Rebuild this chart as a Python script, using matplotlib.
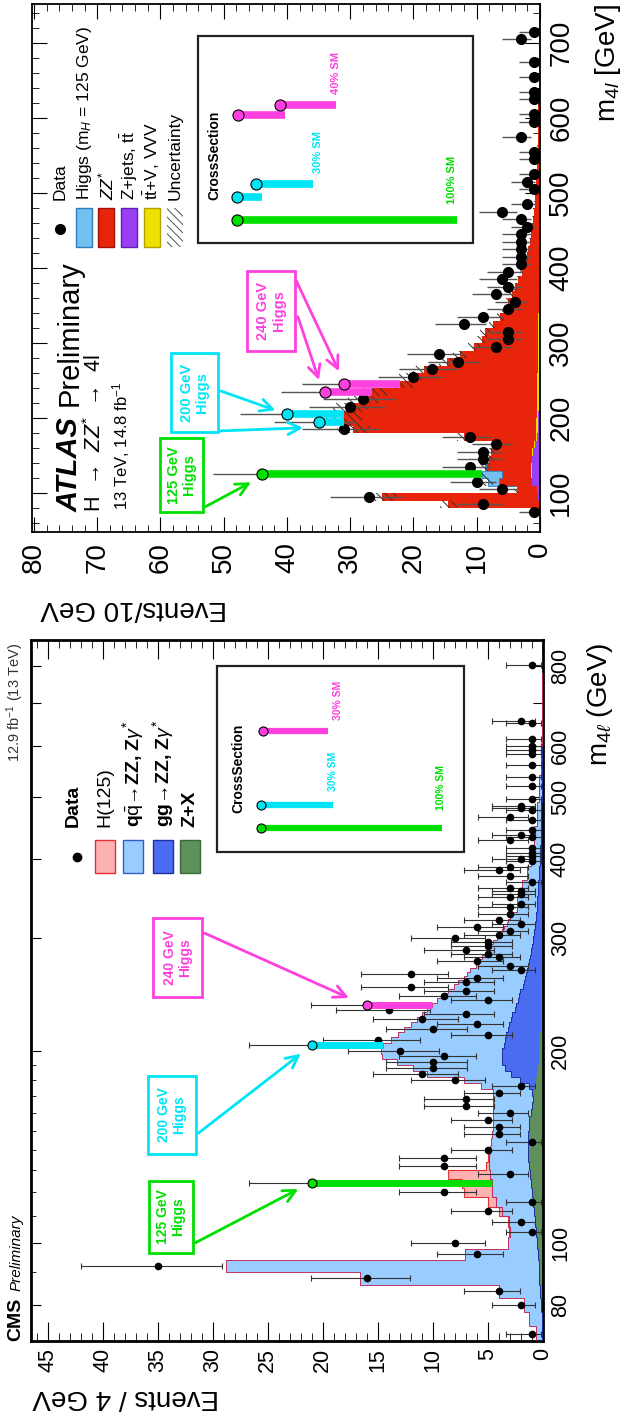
import numpy as np
import matplotlib
matplotlib.use("Agg")
import matplotlib.pyplot as plt
from matplotlib.patches import Rectangle
from matplotlib.lines import Line2D
from matplotlib.ticker import MultipleLocator, FixedLocator, NullFormatter

plt.rcParams['font.family'] = ['Liberation Sans', 'DejaVu Sans']
plt.rcParams['mathtext.fontset'] = 'custom'
plt.rcParams['mathtext.rm'] = 'Liberation Sans'
plt.rcParams['mathtext.it'] = 'Liberation Sans:italic'
plt.rcParams['mathtext.bf'] = 'Liberation Sans:bold'
plt.rcParams['hatch.linewidth'] = 0.7
plt.rcParams['ytick.alignment'] = 'center'

# ---------------- CMS (Events / 4 GeV) ----------------
cms_edges = list(range(70, 334, 4)) + [350, 370, 390, 420, 450, 490, 540, 600, 680, 780, 880]
# outer edge of the background stack (Z+X + gg + qq)
cms_total = [0.6, 1.3, 1.7, 4.0, 16.6, 28.8, 7.1, 3.2, 3.0, 3.1,
             3.7, 4.3, 4.6, 4.6, 4.8, 4.9, 4.9, 4.8, 4.7, 4.6,
             4.5, 4.5, 4.5, 4.5, 4.5, 4.5, 5.6, 7.2, 10.5, 11.8,
             13.3, 14.6, 14.7, 14.5, 13.8, 13.2, 12.6, 12.0, 11.4, 11.0,
             10.5, 10.1, 9.6, 9.0, 8.6, 8.1, 7.7, 7.2, 6.9, 6.6,
             6.1, 5.8, 5.5, 5.2, 5.0, 4.7, 4.5, 4.2, 4.0, 3.7,
             3.5, 3.3, 3.2, 3.0, 2.8,
             2.4, 1.9, 1.45, 1.1, 0.8, 0.55, 0.38, 0.22, 0.12, 0.06, 0.03]
cms_gg = [0.02, 0.02, 0.02, 0.02, 0.02, 0.02, 0.02, 0.02, 0.02, 0.02,
          0.02, 0.02, 0.02, 0.02, 0.02, 0.03, 0.03, 0.03, 0.03, 0.03,
          0.03, 0.03, 0.03, 0.03, 0.03, 0.2, 0.6, 1.5, 2.4, 3.0,
          3.3, 3.4, 3.4, 3.3, 3.2, 3.1, 3.0, 2.9, 2.7, 2.6,
          2.4, 2.3, 2.1, 2.0, 1.9, 1.7, 1.6, 1.5, 1.4, 1.3,
          1.2, 1.15, 1.1, 1.0, 0.95, 0.9, 0.85, 0.8, 0.75, 0.7,
          0.65, 0.62, 0.6, 0.57, 0.55,
          0.5, 0.42, 0.35, 0.28, 0.2, 0.15, 0.1, 0.06, 0.03, 0.015, 0.008]
cms_zx = [0.05, 0.1, 0.2, 0.25, 0.3, 0.35, 0.4, 0.5, 0.6, 0.7,
          0.8, 0.9, 1.0, 1.1, 1.2, 1.25, 1.3, 1.35, 1.35, 1.3,
          1.25, 1.2, 1.1, 1.0, 0.9, 0.8, 0.7, 0.6, 0.5, 0.45,
          0.4, 0.35, 0.3, 0.28, 0.26, 0.24, 0.22, 0.21, 0.2, 0.19,
          0.18, 0.17, 0.16, 0.15, 0.15, 0.14, 0.14, 0.13, 0.13, 0.12,
          0.12, 0.11, 0.11, 0.1, 0.1, 0.1, 0.09, 0.09, 0.09, 0.08,
          0.08, 0.08, 0.07, 0.07, 0.07,
          0.06, 0.05, 0.04, 0.03, 0.025, 0.02, 0.01, 0.005, 0.003, 0.002, 0.001]
cms_h_centers = [104, 108, 112, 116, 120, 124, 128, 132, 136]
cms_h125 = [0.05, 0.1, 0.3, 0.7, 2.6, 2.8, 3.8, 0.3, 0.05]

cms_data_m = [72, 80, 84, 88, 92, 96, 100, 104, 108, 112,
              116, 120, 124, 128, 132, 136, 140, 144, 148, 152,
              156, 160, 164, 168, 172, 176, 180, 184, 188, 192,
              196, 200, 204, 208, 212, 216, 220, 224, 228, 232,
              236, 240, 244, 248, 252, 256, 260, 264, 268, 272,
              276, 280, 284, 288, 292, 296, 300, 304, 308, 312,
              316, 320, 328, 336, 340, 348, 352, 356, 360, 368,
              376, 384, 388, 396, 400, 404, 408, 416, 428, 432,
              436, 444, 460, 464, 476, 480, 484, 496, 520, 536,
              560, 584, 592, 600, 616, 652, 656, 804]
cms_data_n = [1, 2, 4, 16, 35, 6, 8, 1, 2, 5,
              1, 9, 21, 3, 9, 9, 5, 1, 4, 4,
              5, 3, 7, 7, 4, 2, 8, 11, 10, 10,
              9, 13, 21, 15, 5, 10, 6, 11, 7, 14,
              16, 5, 9, 7, 12, 7, 6, 12, 2, 3,
              6, 4, 5, 7, 5, 5, 8, 4, 3, 6,
              2, 4, 3, 3, 2, 3, 2, 2, 3, 1,
              3, 4, 3, 1, 2, 1, 1, 1, 3, 1,
              2, 1, 1, 3, 1, 2, 2, 1, 1, 1,
              1, 1, 1, 1, 1, 1, 2, 1]

cms_sig_m = [124, 204, 236]
cms_sig_col = ['#00e000', '#00e5f5', '#ff40e0']
cms_sig_text = ['100% SM', '30% SM', '30% SM']

# ---------------- ATLAS (Events / 10 GeV) ----------------
atl_edges = list(range(70, 760, 10))
atl_total = [0.5, 14.5, 25.0, 3.6, 6.5, 6.0, 8.5, 8.0, 7.8, 6.5,
             12.0, 29.5, 31.0, 31.0, 30.0, 27.9, 26.6, 22.1, 20.5, 18.4,
             14.7, 12.6, 10.5, 9.2, 8.7, 7.4, 6.3, 5.5, 5.0, 4.5,
             4.0, 3.4, 2.9, 2.4, 2.1, 1.9, 1.6, 1.4, 1.25, 1.1,
             1.0, 0.85, 0.75, 0.68, 0.6, 0.55, 0.5, 0.45, 0.4, 0.37,
             0.34, 0.31, 0.28, 0.26, 0.24, 0.22, 0.2, 0.18, 0.17, 0.16,
             0.15, 0.14, 0.13, 0.12, 0.11, 0.1, 0.09, 0.08]
atl_zjets = [0.05, 0.2, 0.35, 0.5, 1.2, 1.3, 1.3, 1.2, 1.1, 0.8,
             0.5, 0.35, 0.3, 0.25, 0.22, 0.2, 0.18, 0.16, 0.15, 0.14,
             0.13, 0.12, 0.11, 0.1, 0.1, 0.09, 0.09, 0.08, 0.08, 0.07,
             0.07, 0.06, 0.06, 0.05, 0.05, 0.05, 0.04, 0.04, 0.04, 0.03,
             0.03, 0.03, 0.03, 0.02, 0.02, 0.02, 0.02, 0.02, 0.02, 0.01,
             0.01, 0.01, 0.01, 0.01, 0.01, 0.01, 0.01, 0.01, 0.01, 0.01,
             0.01, 0.01, 0.01, 0.01, 0.01, 0.01, 0.01, 0.01]
atl_ttv = [0.0, 0.02, 0.03, 0.05, 0.08, 0.1, 0.1, 0.1, 0.12, 0.15,
           0.2, 0.25, 0.3, 0.3, 0.3, 0.3, 0.28, 0.27, 0.26, 0.25,
           0.24, 0.22, 0.2, 0.19, 0.18, 0.17, 0.16, 0.15, 0.14, 0.13,
           0.12, 0.11, 0.1, 0.1, 0.09, 0.08, 0.08, 0.07, 0.07, 0.06,
           0.06, 0.05, 0.05, 0.05, 0.04, 0.04, 0.04, 0.03, 0.03, 0.03,
           0.03, 0.02, 0.02, 0.02, 0.02, 0.02, 0.02, 0.02, 0.02, 0.02,
           0.02, 0.02, 0.02, 0.02, 0.02, 0.02, 0.02, 0.02]
atl_h_centers = [105, 115, 125, 135]
atl_higgs = [0.1, 1.7, 3.2, 0.15]

atl_data_m = [75, 85, 95, 105, 115, 125, 135, 145, 155, 165,
              175, 185, 195, 205, 215, 225, 235, 245, 255, 265,
              275, 285, 295, 305, 315, 325, 335, 345, 355, 365,
              375, 385, 395, 405, 415, 425, 435, 445, 455, 465,
              475, 485, 505, 515, 525, 545, 555, 575, 595, 605,
              625, 635, 655, 675, 705, 715]
atl_data_n = [1, 9, 27, 6, 10, 44, 11, 9, 9, 7,
              11, 31, 35, 40, 30, 28, 34, 31, 20, 17,
              13, 16, 7, 5, 5, 12, 9, 5, 4, 7,
              5, 6, 5, 3, 3, 3, 3, 3, 2, 3,
              6, 2, 1, 2, 1, 1, 1, 3, 1, 1,
              1, 1, 1, 1, 3, 1]

atl_sig_m = [125, 195, 205, 235, 245]
atl_sig_col = ['#00e000', '#00e5f5', '#00e5f5', '#ff40e0', '#ff40e0']

W, H = 627, 1424
fig = plt.figure(figsize=(W / 100, H / 100), dpi=100)


def rect_px(l, t, r, b):
    return [l / W, 1 - b / H, (r - l) / W, (b - t) / H]


def fx(x):
    return x / W


def fy(y):
    return 1 - y / H


def poisson_err(n):
    n = np.asarray(n, dtype=float)
    lo = n - n * (1 - 1 / (9 * n) - 1 / (3 * np.sqrt(n))) ** 3
    hi = np.sqrt(n + 0.75) + 1
    return lo, hi


# ================= ATLAS panel (top) =================
ax_a = fig.add_axes(rect_px(32, 4, 540, 532))
ax_a.set_xlim(80.3, 0)
ax_a.set_ylim(48, 752)
e = np.array(atl_edges, float)
zj = np.array(atl_zjets)
tv = np.array(atl_ttv)
tot = np.array(atl_total)
ax_a.stairs(zj, e, baseline=0, fill=True, orientation='horizontal', color='#9b3ff5', zorder=2)
ax_a.stairs(zj + tv, e, baseline=zj, fill=True, orientation='horizontal', color='#f0e000', zorder=2)
ax_a.stairs(tot, e, baseline=zj + tv, fill=True, orientation='horizontal', color='#e8240a', zorder=2)
ah_idx = [(c - 75) // 10 for c in atl_h_centers]
ah_edges = [atl_h_centers[0] - 5] + [c + 5 for c in atl_h_centers]
ah_base = tot[ah_idx]
ax_a.stairs(ah_base + np.array(atl_higgs), ah_edges, baseline=ah_base, fill=True,
            orientation='horizontal', facecolor='#74c0ef', edgecolor='#2a7fc0', lw=0.6, zorder=2)
tot_a = tot.copy()
tot_a[ah_idx] += np.array(atl_higgs)
ax_a.stairs(tot_a * 1.09, e, baseline=tot_a * 0.91, fill=True, orientation='horizontal',
            facecolor='none', edgecolor='#333333', hatch='\\\\\\\\', lw=0, zorder=3)
lo, hi = poisson_err(atl_data_n)
ax_a.errorbar(atl_data_n, atl_data_m, xerr=[lo, hi], fmt='o', color='k', ms=7,
              ecolor='#555555', elinewidth=1.0, capsize=0, zorder=5)
for m, c in zip(atl_sig_m, atl_sig_col):
    i = atl_data_m.index(m)
    model = tot_a[(m - 75) // 10]
    ax_a.plot([atl_data_n[i], model], [m, m], color=c, lw=5.5, solid_capstyle='butt', zorder=6)
    ax_a.plot(atl_data_n[i], m, 'o', ms=8, mfc=c, mec='k', mew=0.8, zorder=7)

ax_a.xaxis.set_major_locator(MultipleLocator(10))
ax_a.xaxis.set_minor_locator(MultipleLocator(2))
ax_a.yaxis.set_major_locator(MultipleLocator(100))
ax_a.yaxis.set_minor_locator(MultipleLocator(20))
ax_a.yaxis.tick_right()
ax_a.tick_params(which='both', direction='in', top=True, bottom=True, left=True, right=True)
ax_a.tick_params(axis='x', which='major', length=11, labelsize=20, labelrotation=90, pad=7)
ax_a.tick_params(axis='x', which='minor', length=5)
ax_a.tick_params(axis='y', which='major', length=11, labelsize=20, labelrotation=90, pad=6)
ax_a.tick_params(axis='y', which='minor', length=5)
for s in ax_a.spines.values():
    s.set_linewidth(1.3)

fig.text(fx(608), fy(4), r'm$_{4l}$ [GeV]', rotation=90, ha='center', va='top', fontsize=20)
fig.text(fx(134), fy(608), 'Events/10 GeV', rotation=180, ha='center', va='center', fontsize=20)

# titles
fig.text(fx(70), fy(512), 'ATLAS', rotation=90, ha='center', va='bottom', fontsize=21,
         fontweight='bold', fontstyle='italic')
fig.text(fx(70), fy(406), 'Preliminary', rotation=90, ha='center', va='bottom', fontsize=21)
fig.text(fx(95), fy(512), r'H  →  $ZZ^{*}$  →  4l', rotation=90, ha='center', va='bottom', fontsize=15.5)
fig.text(fx(121), fy(510), r'13 TeV, 14.8 fb$^{-1}$', rotation=90, ha='center', va='bottom', fontsize=12)

# legend
fig.add_artist(Line2D([fx(60)], [fy(229)], marker='o', ms=7, color='k', transform=fig.transFigure))
atl_leg = [('Data', None, None, None),
           (r'Higgs (m$_{H}$ = 125 GeV)', '#74c0ef', '#2a7fc0', None),
           (r'$ZZ^{*}$', '#e8240a', '#a01000', None),
           (r'Z+jets, t$\bar{\rm t}$', '#9b3ff5', '#6020b0', None),
           (r't$\bar{\rm t}$+V, VVV', '#f0e000', '#b0a000', None),
           ('Uncertainty', 'white', 'none', '\\\\\\\\')]
leg_x = [60, 84, 106, 129, 152, 175]
for (lab, fc, ec, hatch), x in zip(atl_leg, leg_x):
    fig.text(fx(x), fy(200), lab, rotation=90, ha='center', va='bottom', fontsize=12.5)
    if fc is not None:
        fig.add_artist(Rectangle((fx(x - 8), fy(247)), 16 / W, 39 / H, transform=fig.transFigure,
                                 facecolor=fc, edgecolor='#555555' if hatch else ec,
                                 lw=0 if hatch else 1.0, hatch=hatch))

# inset
fig.add_artist(Rectangle((fx(198), fy(243)), 275 / W, 207 / H, transform=fig.transFigure,
                         facecolor='white', edgecolor='#222222', lw=1.6, zorder=4))
fig.text(fx(214), fy(155), 'CrossSection', rotation=90, ha='center', va='center', fontsize=10,
         fontweight='bold', zorder=5)
ppe_a = 508 / 80.3
atl_inset = [(125, 237, 220), (195, 237, 197), (205, 256, 184), (235, 238, 115), (245, 280, 105)]
for (m, x0, y0), c in zip(atl_inset, atl_sig_col):
    i = atl_data_m.index(m)
    L = (atl_data_n[i] - tot_a[(m - 75) // 10]) * ppe_a
    fig.add_artist(Line2D([fx(x0), fx(x0 + L)], [fy(y0), fy(y0)], color=c, lw=5.5,
                          solid_capstyle='butt', transform=fig.transFigure, zorder=6))
    fig.add_artist(Line2D([fx(x0)], [fy(y0)], marker='o', ms=8, mfc=c, mec='k', mew=0.8,
                          transform=fig.transFigure, zorder=7))
fig.text(fx(452), fy(180), '100% SM', rotation=90, ha='center', va='center', fontsize=8,
         fontweight='bold', color='#00e000', zorder=6)
fig.text(fx(318), fy(152), '30% SM', rotation=90, ha='center', va='center', fontsize=8,
         fontweight='bold', color='#00e5f5', zorder=6)
fig.text(fx(336), fy(73), '40% SM', rotation=90, ha='center', va='center', fontsize=8,
         fontweight='bold', color='#ff40e0', zorder=6)

# annotation boxes
atl_boxes = [('125 GeV\nHiggs', '#00e000', 160, 438, 203, 512),
             ('200 GeV\nHiggs', '#00e5f5', 171, 353, 218, 432),
             ('240 GeV\nHiggs', '#ff40e0', 247, 271, 295, 351)]
for txt, c, l, t, r, b in atl_boxes:
    fig.add_artist(Rectangle((fx(l), fy(b)), (r - l) / W, (b - t) / H, transform=fig.transFigure,
                             facecolor='white', edgecolor=c, lw=2, zorder=8))
    fig.text(fx((l + r) / 2), fy((t + b) / 2), txt, rotation=90, ha='center', va='center',
             fontsize=10.5, fontweight='bold', color=c, linespacing=1.1, zorder=9)
atl_arrows = [('#00e000', (203, 508), (45.3, 116)),
              ('#00e5f5', (218, 390), (41.4, 209)),
              ('#00e5f5', (218, 431), (37.0, 187)),
              ('#ff40e0', (295, 278), (31.6, 259)),
              ('#ff40e0', (297, 314), (34.8, 247))]
for c, (sx, sy), tip in atl_arrows:
    ax_a.annotate('', xy=tip, xycoords='data', xytext=(fx(sx), fy(sy)), textcoords='figure fraction',
                  arrowprops=dict(arrowstyle='->', color=c, lw=2, mutation_scale=22),
                  annotation_clip=False, zorder=9)

# ================= CMS panel (bottom) =================
ax_c = fig.add_axes(rect_px(31, 640, 543, 1341))
ax_c.set_yscale('log')
ax_c.set_xlim(46.5, 0)
ax_c.set_ylim(70.2, 880)
ce = np.array(cms_edges, float)
zx = np.array(cms_zx)
gg = np.array(cms_gg)
ct = np.array(cms_total)
ax_c.stairs(zx, ce, baseline=0, fill=True, orientation='horizontal', color='#5f8f5a', zorder=2)
ax_c.stairs(zx + gg, ce, baseline=zx, fill=True, orientation='horizontal', color='#4a6cf0', zorder=2)
ax_c.stairs(ct, ce, baseline=zx + gg, fill=True, orientation='horizontal', color='#99ccff', zorder=2)
ch_idx = [(c - 72) // 4 for c in cms_h_centers]
ch_edges = [cms_h_centers[0] - 2] + [c + 2 for c in cms_h_centers]
ch_base = ct[ch_idx]
ax_c.stairs(ch_base + np.array(cms_h125), ch_edges, baseline=ch_base, fill=True,
            orientation='horizontal', facecolor='#ffb2b2', edgecolor='#e03030', lw=0.8, zorder=2)
ax_c.stairs(zx + gg, ce, orientation='horizontal', color='#1c2fa0', lw=0.7, zorder=3)
ax_c.stairs(ct, ce, orientation='horizontal', color='#c03060', lw=0.7, zorder=3)
lo, hi = poisson_err(cms_data_n)
ax_c.errorbar(cms_data_n, cms_data_m, xerr=[lo, hi], fmt='o', color='k', ms=4.5,
              ecolor='#333333', elinewidth=0.8, capsize=2, capthick=0.8, zorder=5)
for m, c in zip(cms_sig_m, cms_sig_col):
    i = cms_data_m.index(m)
    model = ct[(m - 72) // 4]
    ax_c.plot([cms_data_n[i], model], [m, m], color=c, lw=5, solid_capstyle='butt', zorder=6)
    ax_c.plot(cms_data_n[i], m, 'o', ms=6.5, mfc=c, mec='k', mew=0.8, zorder=7)

ax_c.xaxis.set_major_locator(MultipleLocator(5))
ax_c.xaxis.set_minor_locator(MultipleLocator(1))
ax_c.set_yticks([80, 100, 200, 300, 400, 500, 600, 700, 800],
                labels=['80', '100', '200', '300', '400', '500', '600', '', '800'])
ax_c.yaxis.set_minor_locator(FixedLocator([70, 90, 110, 120, 130, 140, 150, 160, 170, 180, 190]))
ax_c.yaxis.set_minor_formatter(NullFormatter())
ax_c.yaxis.tick_right()
ax_c.tick_params(which='both', direction='in', top=True, bottom=True, left=True, right=True)
ax_c.tick_params(axis='x', which='major', length=14, labelsize=15.5, labelrotation=90, pad=5)
ax_c.tick_params(axis='x', which='minor', length=6)
ax_c.tick_params(axis='y', which='major', length=7, labelsize=15.5, labelrotation=90, pad=5)
ax_c.tick_params(axis='y', which='minor', length=3.5)
for s in ax_c.spines.values():
    s.set_linewidth(2)

fig.text(fx(600), fy(643), r'm$_{4\ell}$ (GeV)', rotation=90, ha='center', va='top', fontsize=20)
fig.text(fx(126), fy(1397), 'Events / 4 GeV', rotation=180, ha='center', va='center', fontsize=20)

fig.text(fx(16), fy(1341), 'CMS', rotation=90, ha='center', va='bottom', fontsize=14, fontweight='bold')
fig.text(fx(17), fy(1291), 'Preliminary', rotation=90, ha='center', va='bottom', fontsize=11,
         fontstyle='italic')
fig.text(fx(15), fy(643), r'12.9 fb$^{-1}$ (13 TeV)', rotation=90, ha='center', va='top',
         fontsize=10.5, color='#333333')

# legend
fig.add_artist(Line2D([fx(77)], [fy(857)], marker='o', ms=6, color='k', transform=fig.transFigure))
cms_leg = [('Data', None, None, 73),
           ('H(125)', '#ffb2b2', '#e03030', 105),
           (r'q$\bar{\rm q}$→ZZ, Z$\gamma^{*}$', '#99ccff', '#3060c0', 133),
           (r'gg→ZZ, Z$\gamma^{*}$', '#4a6cf0', '#1c2fa0', 163),
           ('Z+X', '#5f8f5a', '#3a6a3a', 190)]
for lab, fc, ec, x in cms_leg:
    fig.text(fx(x), fy(827), lab, rotation=90, ha='center', va='bottom', fontsize=14,
             fontweight='normal' if lab == 'H(125)' else 'bold')
    if fc is not None:
        fig.add_artist(Rectangle((fx(x - 10), fy(873)), 20 / W, 33 / H, transform=fig.transFigure,
                                 facecolor=fc, edgecolor=ec, lw=1.0))

# inset
fig.add_artist(Rectangle((fx(217), fy(852)), 247 / W, 186 / H, transform=fig.transFigure,
                         facecolor='white', edgecolor='#222222', lw=1.6, zorder=4))
fig.text(fx(238), fy(768), 'CrossSection', rotation=90, ha='center', va='center', fontsize=10,
         fontweight='bold', zorder=5)
ppe_c = 512 / 46.5
cms_inset = [(261, 828), (261, 805), (263, 731)]
cms_inset_txt = [(441, 788), (333, 771), (338, 700)]
for m, (x0, y0), (tx, ty), c, s in zip(cms_sig_m, cms_inset, cms_inset_txt, cms_sig_col, cms_sig_text):
    i = cms_data_m.index(m)
    L = (cms_data_n[i] - ct[(m - 72) // 4]) * ppe_c
    fig.add_artist(Line2D([fx(x0), fx(x0 + L)], [fy(y0), fy(y0)], color=c, lw=4.5,
                          solid_capstyle='butt', transform=fig.transFigure, zorder=6))
    fig.add_artist(Line2D([fx(x0)], [fy(y0)], marker='o', ms=6.5, mfc=c, mec='k', mew=0.8,
                          transform=fig.transFigure, zorder=7))
    fig.text(fx(tx), fy(ty), s, rotation=90, ha='center', va='center', fontsize=7.5,
             fontweight='bold', color=c, zorder=6)

cms_boxes = [('125 GeV\nHiggs', '#00e000', 149, 1181, 193, 1253),
             ('200 GeV\nHiggs', '#00e5f5', 148, 1076, 196, 1154),
             ('240 GeV\nHiggs', '#ff40e0', 153, 918, 202, 997)]
for txt, c, l, t, r, b in cms_boxes:
    fig.add_artist(Rectangle((fx(l), fy(b)), (r - l) / W, (b - t) / H, transform=fig.transFigure,
                             facecolor='white', edgecolor=c, lw=2, zorder=8))
    fig.text(fx((l + r) / 2), fy((t + b) / 2), txt, rotation=90, ha='center', va='center',
             fontsize=10, fontweight='bold', color=c, linespacing=1.1, zorder=9)
cms_arrows = [('#00e000', (193, 1244), (22.0, 122)),
              ('#00e5f5', (196, 1135), (21.8, 199)),
              ('#ff40e0', (202, 932), (17.4, 241))]
for c, (sx, sy), tip in cms_arrows:
    ax_c.annotate('', xy=tip, xycoords='data', xytext=(fx(sx), fy(sy)), textcoords='figure fraction',
                  arrowprops=dict(arrowstyle='->', color=c, lw=2, mutation_scale=22),
                  annotation_clip=False, zorder=9)

fig.savefig('out.png', dpi=100)
